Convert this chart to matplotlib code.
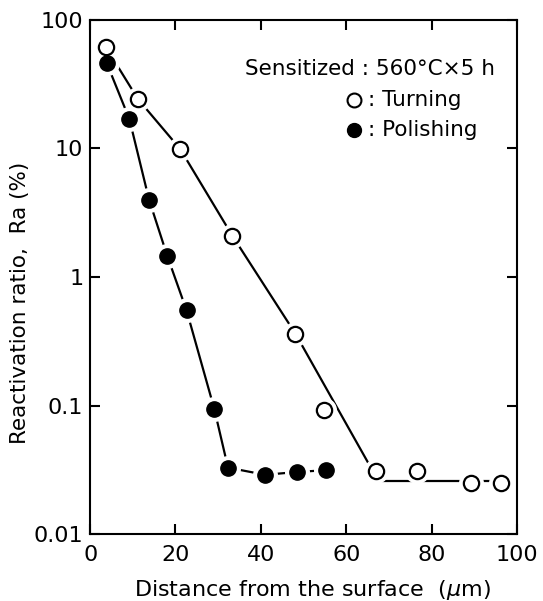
import matplotlib
matplotlib.use("Agg")
import matplotlib.pyplot as plt
from matplotlib.ticker import FixedLocator, NullLocator

# Data
turn_x = [3.6, 11.2, 21.1, 33.3, 48.1, 54.9, 66.9, 76.6, 89.3, 96.2]
turn_y = [62, 24.2, 9.9, 2.1, 0.363, 0.093, 0.031, 0.031, 0.025, 0.025]
turn_line_x = [3.6, 11.2, 21.1, 33.3, 48.1, 66.0]
turn_line_y = [62, 24.2, 9.9, 2.1, 0.363, 0.032]
turn_flat_x = [67.0, 96.2]
turn_flat_y = [0.026, 0.026]

pol_x = [3.9, 9.2, 13.8, 18.1, 22.6, 29.1, 32.3, 41.0, 48.4, 55.2]
pol_y = [46, 16.9, 4.0, 1.45, 0.55, 0.094, 0.033, 0.029, 0.0305, 0.0315]

xticks = [0, 20, 40, 60, 80, 100]
yticks = [0.01, 0.1, 1, 10, 100]
ytick_labels = ["0.01", "0.1", "1", "10", "100"]

plt.rcParams['font.family'] = ['DejaVu Sans']
fig = plt.figure(figsize=(5.43, 6.01), dpi=100)
ax = fig.add_axes([0.166, 0.111, 0.786, 0.856])

ax.set_yscale('log')
ax.set_xlim(0, 100)
ax.set_ylim(0.01, 100)

lw = 1.6
ax.plot(turn_line_x, turn_line_y, color='black', lw=lw, zorder=2)
ax.plot(turn_flat_x, turn_flat_y, color='black', lw=lw, zorder=2)
ax.plot(pol_x, pol_y, color='black', lw=lw, zorder=2)

ms = 11
# white halos to give gaps around markers
ax.plot(turn_x, turn_y, ls='none', marker='o', ms=ms + 6, mfc='white', mec='white', zorder=3)
ax.plot(pol_x, pol_y, ls='none', marker='o', ms=ms + 6, mfc='white', mec='white', zorder=3)
ax.plot(turn_x, turn_y, ls='none', marker='o', ms=ms, mfc='white', mec='black', mew=1.6, zorder=4)
ax.plot(pol_x, pol_y, ls='none', marker='o', ms=ms, mfc='black', mec='black', zorder=4)

ax.xaxis.set_major_locator(FixedLocator(xticks))
ax.yaxis.set_major_locator(FixedLocator(yticks))
ax.yaxis.set_minor_locator(NullLocator())
ax.set_yticklabels(ytick_labels)
ax.tick_params(direction='in', length=7, width=1.5, top=True, right=True,
               labelsize=16)
ax.tick_params(axis='x', pad=8)
ax.tick_params(axis='y', pad=5)
for s in ax.spines.values():
    s.set_linewidth(1.5)

ax.set_xlabel('Distance from the surface  ($\\mu$m)', fontsize=16)
ax.xaxis.set_label_coords(0.52, -0.085)
ax.set_ylabel('Reactivation ratio,  Ra (%)', fontsize=15.5)
ax.yaxis.set_label_coords(-0.14, 0.45)

ax.text(0.948, 0.905, 'Sensitized : 560°C×5 h', transform=ax.transAxes,
        ha='right', va='center', fontsize=15.5)
ax.plot([0.618], [0.845], transform=ax.transAxes, marker='o', ms=10, mfc='white',
        mec='black', mew=1.5, ls='none', clip_on=False)
ax.text(0.650, 0.845, ': Turning', transform=ax.transAxes, ha='left', va='center', fontsize=15.5)
ax.plot([0.618], [0.785], transform=ax.transAxes, marker='o', ms=10, mfc='black',
        mec='black', ls='none', clip_on=False)
ax.text(0.650, 0.785, ': Polishing', transform=ax.transAxes, ha='left', va='center', fontsize=15.5)

fig.savefig('out.png', dpi=100)
